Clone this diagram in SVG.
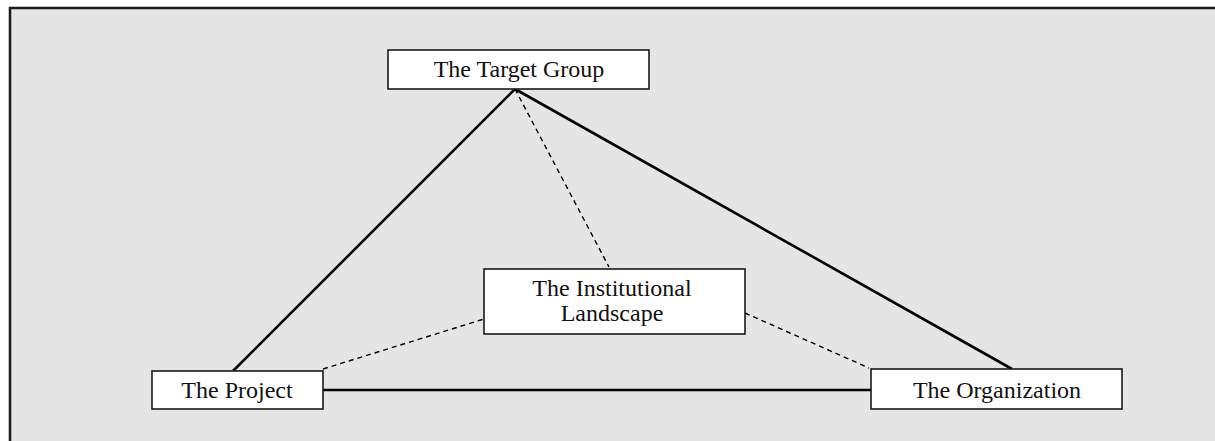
<svg xmlns="http://www.w3.org/2000/svg" width="1215" height="441" viewBox="0 0 1215 441">
<style>
.box{fill:#ffffff;stroke:#1a1a1a;stroke-width:1.6}
.lbl{font-family:"Liberation Serif","DejaVu Serif",serif;font-size:24px;fill:#111;text-anchor:middle}
.solid{stroke:#000;stroke-width:2.6;fill:none}
.dash{stroke:#000;stroke-width:1.4;fill:none;stroke-dasharray:5,4}
</style>
<rect x="10" y="8" width="1240" height="460" fill="#e5e5e5" stroke="#1a1a1a" stroke-width="2.5"/>
<g id="connectors">
<line class="solid" x1="233" y1="371" x2="515" y2="89"/>
<line class="solid" x1="515" y1="89" x2="1012" y2="369"/>
<line class="solid" x1="323" y1="390" x2="871" y2="390"/>
<line class="dash" x1="515" y1="89" x2="609" y2="267"/>
<line class="dash" x1="323" y1="369" x2="484" y2="319"/>
<line class="dash" x1="745" y1="313" x2="869" y2="368"/>
</g>
<g id="target-group">
<rect class="box" x="388" y="50" width="261" height="39"/>
<text class="lbl" x="519" y="77">The Target Group</text>
</g>
<g id="institutional-landscape">
<rect class="box" x="484" y="269" width="261" height="65"/>
<text class="lbl" x="612" y="296">The Institutional</text>
<text class="lbl" x="612" y="321">Landscape</text>
</g>
<g id="project">
<rect class="box" x="152" y="371" width="171" height="38"/>
<text class="lbl" x="237" y="398">The Project</text>
</g>
<g id="organization">
<rect class="box" x="871" y="369" width="251" height="40"/>
<text class="lbl" x="997" y="398">The Organization</text>
</g>
</svg>
